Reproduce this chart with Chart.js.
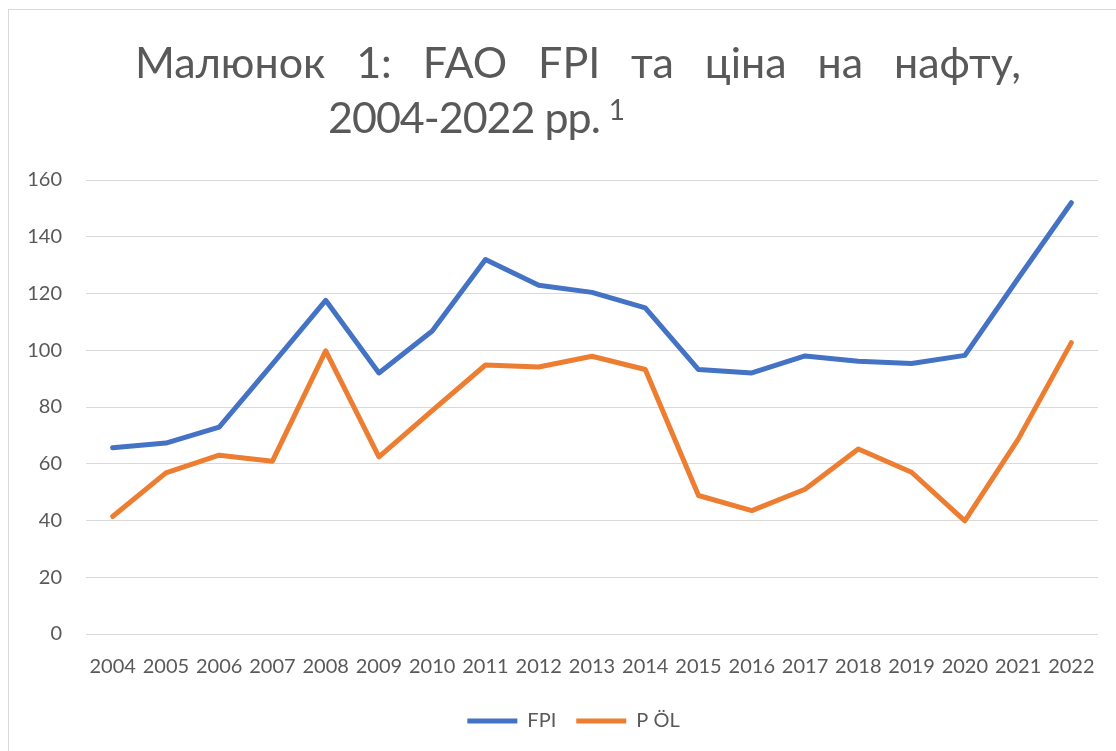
<!DOCTYPE html>
<html>
<head>
<meta charset="utf-8">
<script src="https://cdn.jsdelivr.net/npm/chart.js@4.4.1/dist/chart.umd.min.js"></script>
<style>
html,body{margin:0;padding:0;background:#fff;}
#wrap{position:relative;width:1116px;height:751px;}
</style>
</head>
<body>
<div id="wrap"><canvas id="c" width="1116" height="751"></canvas></div>
<script>
const years = ['2004','2005','2006','2007','2008','2009','2010','2011','2012','2013','2014','2015','2016','2017','2018','2019','2020','2021','2022'];
const fpiValues = [65.6, 67.3, 72.9, 95.1, 117.6, 92.0, 106.8, 132.0, 122.9, 120.4, 114.9, 93.2, 92.0, 98.0, 96.1, 95.3, 98.2, 125.3, 152.0];
const oilValues = [41.4, 56.8, 63.0, 60.9, 99.8, 62.4, 78.7, 94.8, 94.1, 97.9, 93.2, 48.8, 43.5, 51.0, 65.2, 57.0, 39.9, 68.6, 102.7];
const seriesNames = ['FPI', 'P ÖL'];
const yMin = 0, yMax = 160, yStep = 20;
const titleLine1Words = ['Малюнок', '1:', 'FAO', 'FPI', 'та', 'ціна', 'на', 'нафту,'];
const titleLine2 = '2004-2022 рр.';
const titleSup = '1';

const TEXT = '#595959';
const FONT = 'Lato';

const titlePlugin = {
  id: 'justTitle',
  afterLayout(chart) {
    const lg = chart.legend;
    if (lg) { lg.left += 24; lg.right += 24; }
  },
  beforeDraw(chart) {
    const ctx = chart.ctx;
    ctx.save();
    ctx.fillStyle = '#ffffff';
    ctx.fillRect(0, 0, chart.width, chart.height);
    ctx.strokeStyle = '#d9d9d9';
    ctx.lineWidth = 1;
    ctx.strokeRect(8.5, 9.5, chart.width + 20, chart.height + 20);
    ctx.fillStyle = TEXT;
    ctx.textBaseline = 'alphabetic';
    ctx.textAlign = 'left';
    ctx.font = '43px ' + FONT;
    const left = 135, right = 1021;
    const widths = titleLine1Words.map(w => ctx.measureText(w).width);
    const total = widths.reduce((a, b) => a + b, 0);
    const gap = (right - left - total) / (titleLine1Words.length - 1);
    let x = left;
    titleLine1Words.forEach((w, i) => { ctx.fillText(w, x, 78); x += widths[i] + gap; });
    if ('letterSpacing' in ctx) ctx.letterSpacing = '-1px';
    ctx.fillText(titleLine2, 328, 133);
    const w2 = ctx.measureText(titleLine2).width;
    if ('letterSpacing' in ctx) ctx.letterSpacing = '0px';
    ctx.font = '28px ' + FONT;
    ctx.fillText(titleSup, 328 + w2 + 9, 120);
    ctx.restore();
  }
};

new Chart(document.getElementById('c'), {
  type: 'line',
  data: {
    labels: years,
    datasets: [
      { label: seriesNames[0], data: fpiValues, borderColor: '#4472C4', backgroundColor: '#4472C4',
        borderWidth: 5, pointRadius: 0, tension: 0, borderJoinStyle: 'round', borderCapStyle: 'round' },
      { label: seriesNames[1], data: oilValues, borderColor: '#ED7D31', backgroundColor: '#ED7D31',
        borderWidth: 5, pointRadius: 0, tension: 0, borderJoinStyle: 'round', borderCapStyle: 'round' }
    ]
  },
  options: {
    responsive: false,
    animation: false,
    devicePixelRatio: 1,
    layout: { padding: { top: 180, right: 17, left: 0, bottom: 10 } },
    plugins: {
      title: { display: false },
      tooltip: { enabled: false },
      legend: {
        position: 'bottom',
        labels: {
          usePointStyle: true,
          pointStyle: 'line',
          pointStyleWidth: 50,
          color: TEXT,
          font: { family: FONT, size: 20 },
          padding: 20
        }
      }
    },
    scales: {
      x: {
        offset: true,
        grid: { display: false, drawTicks: false },
        border: { display: false },
        ticks: { color: TEXT, font: { family: FONT, size: 20 }, padding: 21, maxRotation: 0, autoSkip: false },
        afterFit(s) { s.height = 57; }
      },
      y: {
        min: yMin, max: yMax,
        grid: { color: '#d9d9d9', lineWidth: 1, drawTicks: false },
        border: { display: false },
        ticks: { stepSize: yStep, color: TEXT, font: { family: FONT, size: 20 }, padding: 24 },
        afterFit(s) { s.width = 86; }
      }
    }
  },
  plugins: [titlePlugin]
});
</script>
</body>
</html>
